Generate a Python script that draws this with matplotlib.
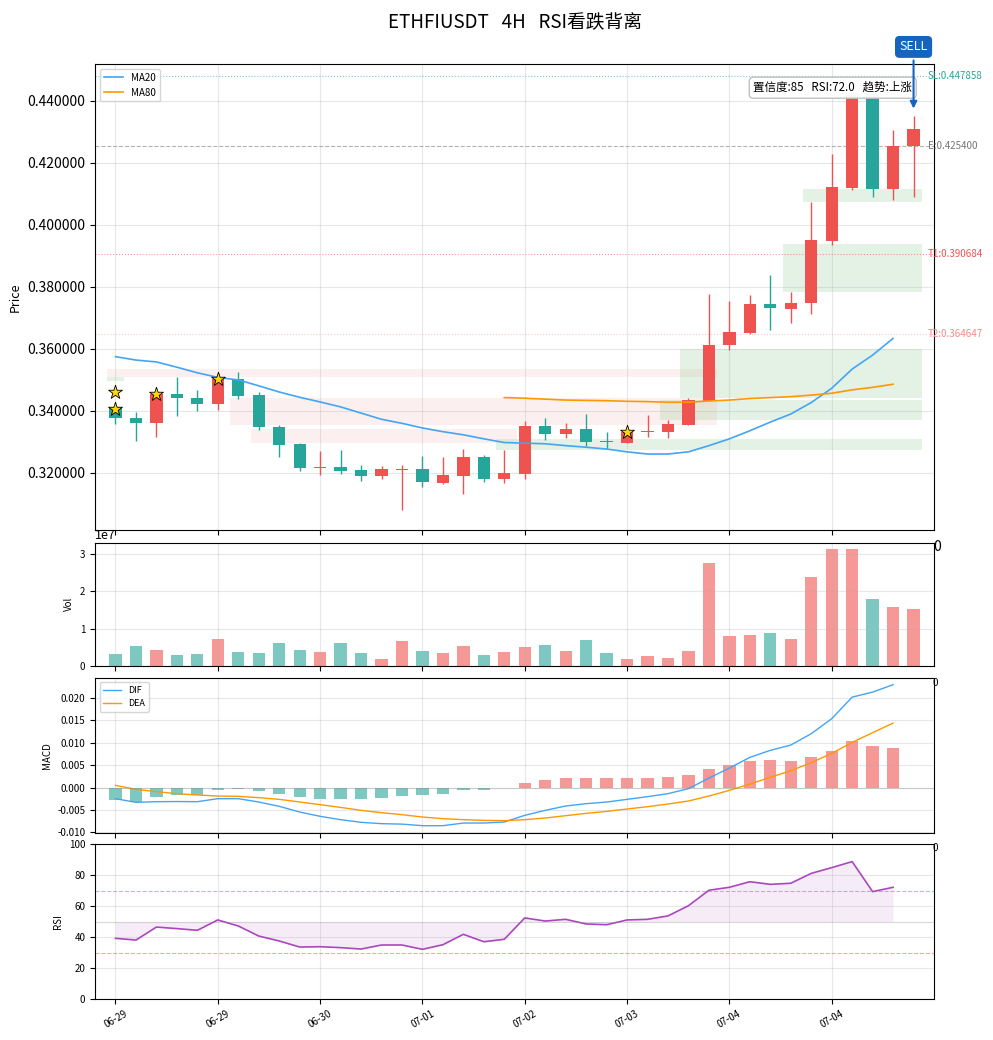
import numpy as np
import matplotlib
matplotlib.use("Agg")
import matplotlib.pyplot as plt

plt.rcParams['font.family'] = ['Noto Sans CJK SC', 'DejaVu Sans']
plt.rcParams['axes.unicode_minus'] = False

# ---- data ----
dates = ["06-29", "06-29", "06-30", "07-01", "07-02", "07-03", "07-04", "07-04"]
opens = [0.3414, 0.3376, 0.3360, 0.3455, 0.3441, 0.3422, 0.3502, 0.3451, 0.3348, 0.3293,
         0.3217, 0.3218, 0.3209, 0.3189, 0.3211, 0.3212, 0.3167, 0.3191, 0.3251, 0.3182,
         0.3198, 0.3352, 0.3327, 0.3341, 0.3302, 0.3298, 0.3331, 0.3333, 0.3356, 0.3433,
         0.3612, 0.3650, 0.3744, 0.3728, 0.3747, 0.3949, 0.4119, 0.4422, 0.4117, 0.4253]
highs = [0.3416, 0.3396, 0.3458, 0.3510, 0.3468, 0.3508, 0.3526, 0.3460, 0.3355, 0.3297,
         0.3271, 0.3274, 0.3226, 0.3223, 0.3226, 0.3255, 0.3252, 0.3277, 0.3259, 0.3275,
         0.3368, 0.3378, 0.3362, 0.3390, 0.3332, 0.3335, 0.3387, 0.3371, 0.3443, 0.3777,
         0.3755, 0.3774, 0.3838, 0.3784, 0.4075, 0.4229, 0.4432, 0.4436, 0.4306, 0.4352]
lows = [0.3358, 0.3303, 0.3317, 0.3385, 0.3401, 0.3403, 0.3440, 0.3339, 0.3252, 0.3206,
        0.3194, 0.3197, 0.3175, 0.3181, 0.3081, 0.3156, 0.3165, 0.3133, 0.3172, 0.3168,
        0.3181, 0.3306, 0.3313, 0.3288, 0.3276, 0.3298, 0.3317, 0.3314, 0.3356, 0.3433,
        0.3598, 0.3648, 0.3662, 0.3685, 0.3714, 0.3935, 0.4113, 0.4091, 0.4081, 0.4091]
closes = [0.3376, 0.3361, 0.3455, 0.3441, 0.3422, 0.3503, 0.3449, 0.3349, 0.3291, 0.3217,
          0.3219, 0.3207, 0.3189, 0.3212, 0.3213, 0.3170, 0.3193, 0.3251, 0.3182, 0.3200,
          0.3352, 0.3327, 0.3341, 0.3301, 0.3300, 0.3332, 0.3333, 0.3357, 0.3435, 0.3612,
          0.3654, 0.3744, 0.3731, 0.3747, 0.3952, 0.4122, 0.4422, 0.4117, 0.4255, 0.4309]
volume = [0.32, 0.535, 0.43, 0.29, 0.32, 0.72, 0.37, 0.35, 0.61, 0.43,
          0.37, 0.61, 0.35, 0.19, 0.67, 0.40, 0.35, 0.535, 0.29, 0.37,
          0.51, 0.56, 0.40, 0.70, 0.35, 0.19, 0.27, 0.21, 0.40, 2.75,
          0.80, 0.83, 0.88, 0.72, 2.38, 3.15, 3.15, 1.79, 1.58, 1.52]  # x1e7
ma20 = [0.3575, 0.3564, 0.3558, 0.3541, 0.3523, 0.3508, 0.3500, 0.3481, 0.3461, 0.3444,
        0.3429, 0.3413, 0.3393, 0.3373, 0.3360, 0.3345, 0.3333, 0.3323, 0.3310, 0.3298,
        0.3296, 0.3294, 0.3288, 0.3283, 0.3277, 0.3268, 0.3261, 0.3261, 0.3268, 0.3288,
        0.3310, 0.3336, 0.3364, 0.3390, 0.3427, 0.3473, 0.3535, 0.3580, 0.3634]
ma80_start = 19
ma80 = [0.3443, 0.3441, 0.3438, 0.3435, 0.3434, 0.3433, 0.3431, 0.3430, 0.3428, 0.3428,
        0.3432, 0.3435, 0.3440, 0.3443, 0.3446, 0.3451, 0.3457, 0.3468, 0.3476, 0.3486]
dif = [-0.00246, -0.00328, -0.00313, -0.00310, -0.00313, -0.00246, -0.00246, -0.00320, -0.00417, -0.00544,
       -0.00640, -0.00715, -0.00774, -0.00804, -0.00814, -0.00849, -0.00849, -0.00790, -0.00790, -0.00767,
       -0.00618, -0.00507, -0.00410, -0.00358, -0.00321, -0.00261, -0.00201, -0.00134, -0.00022, 0.00214,
       0.00438, 0.00676, 0.00833, 0.00951, 0.01205, 0.01540, 0.02022, 0.02134, 0.02299]
dea = [0.00051, -0.00038, -0.00089, -0.00134, -0.00164, -0.00187, -0.00194, -0.00223, -0.00261, -0.00320,
       -0.00380, -0.00440, -0.00507, -0.00559, -0.00603, -0.00656, -0.00693, -0.00715, -0.00730, -0.00737,
       -0.00715, -0.00678, -0.00626, -0.00574, -0.00529, -0.00477, -0.00425, -0.00365, -0.00298, -0.00187,
       -0.00060, 0.00080, 0.00230, 0.00379, 0.00558, 0.00766, 0.01011, 0.01228, 0.01442]
macd_hist = [-0.00276, -0.00313, -0.00217, -0.00164, -0.00156, -0.00060, -0.00037, -0.00083, -0.00142, -0.00210,
             -0.00254, -0.00254, -0.00254, -0.00231, -0.00187, -0.00164, -0.00142, -0.00060, -0.00060, -0.00015,
             0.00096, 0.00163, 0.00208, 0.00208, 0.00208, 0.00208, 0.00208, 0.00230, 0.00275, 0.00409,
             0.00498, 0.00587, 0.00610, 0.00587, 0.00676, 0.00810, 0.01033, 0.00922, 0.00877]
rsi = [39.2, 38.1, 46.5, 45.5, 44.4, 51.1, 47.2, 40.7, 37.5, 33.6,
       33.8, 33.2, 32.3, 34.9, 34.9, 32.1, 35.1, 41.8, 37.0, 38.6,
       52.4, 50.4, 51.5, 48.5, 48.0, 51.1, 51.5, 53.7, 60.3, 70.3,
       72.2, 75.8, 74.1, 74.8, 81.2, 84.9, 88.8, 69.4, 72.2]

# zones (start idx, end idx, low, high)
pink_zones = [(-0.4, 29.4, 0.3511, 0.3535), (5.6, 29.4, 0.3355, 0.3441), (6.6, 19.6, 0.3297, 0.3342)]
green_zones = [(-0.4, 0.4, 0.3495, 0.3511), (33.6, 39.4, 0.4075, 0.4116), (32.6, 39.4, 0.3785, 0.3939),
               (27.6, 39.4, 0.3443, 0.3599), (26.6, 39.4, 0.3371, 0.3435), (18.6, 39.4, 0.3274, 0.3310)]
star_idx = [0, 0, 2, 5, 25]
star_price = [0.3460, 0.3405, 0.3455, 0.3502, 0.3332]
levels = {"SL": 0.447858, "E": 0.425400, "T1": 0.390684, "T2": 0.364647}
sell_idx, sell_price = 39, 0.4366

UP = '#EF5350'
DOWN = '#26A69A'

n = len(closes)
x = np.arange(n)
colors = [UP if c >= o else DOWN for o, c in zip(opens, closes)]

fig = plt.figure(figsize=(9.93, 10.4), dpi=100)
ax = fig.add_axes([0.0957, 0.4904, 0.8449, 0.4481])
axv = fig.add_axes([0.0957, 0.3596, 0.8449, 0.1186], sharex=ax)
axm = fig.add_axes([0.0957, 0.1993, 0.8449, 0.1491], sharex=ax)
axr = fig.add_axes([0.0957, 0.0394, 0.8449, 0.1488], sharex=ax)

# ---- price panel ----
for (a, b, lo, hi) in pink_zones:
    ax.fill_between([a, b], lo, hi, color='#EF9A9A', alpha=0.15, lw=0)
for (a, b, lo, hi) in green_zones:
    ax.fill_between([a, b], lo, hi, color='#81C784', alpha=0.22, lw=0)

ax.vlines(x, lows, highs, colors=colors, lw=1, zorder=2)
body_bot = [min(o, c) for o, c in zip(opens, closes)]
body_h = [max(abs(c - o), 0.0003) for o, c in zip(opens, closes)]
ax.bar(x, body_h, bottom=body_bot, width=0.6, color=colors, zorder=3)

ax.plot(x[:len(ma20)], ma20, color='#42A5F5', lw=1.2, label='MA20', zorder=4)
ax.plot(np.arange(ma80_start, ma80_start + len(ma80)), ma80, color='#FF9800', lw=1.2, label='MA80', zorder=4)

ax.scatter(star_idx, star_price, marker='*', s=110, color='#FFD700', edgecolors='black', linewidths=0.6, zorder=6)

ax.axhline(levels["SL"], color=DOWN, ls=':', lw=0.8, alpha=0.6)
ax.axhline(levels["E"], color='gray', ls='--', lw=0.8, alpha=0.6)
ax.axhline(levels["T1"], color=UP, ls=':', lw=0.8, alpha=0.6)
ax.axhline(levels["T2"], color=UP, ls=':', lw=0.8, alpha=0.3)
lab_col = {"SL": DOWN, "E": '#757575', "T1": UP, "T2": '#F28B89'}
for k, v in levels.items():
    ax.text(39.7, v, f"{k}:{v:.6f}", color=lab_col[k], fontsize=7, va='center', ha='left', clip_on=False)

ax.text(0.974, 0.963, "置信度:85   RSI:72.0   趋势:上涨", transform=ax.transAxes, fontsize=8.3,
        ha='right', va='top', zorder=10,
        bbox=dict(boxstyle='round,pad=0.35', fc='white', ec='#BDBDBD', alpha=0.95))

ax.annotate("SELL", xy=(sell_idx, sell_price), xytext=(sell_idx, 0.4574),
            ha='center', va='center', fontsize=9, color='white', annotation_clip=False, zorder=11,
            bbox=dict(boxstyle='round,pad=0.3', fc='#1565C0', ec='#1565C0'),
            arrowprops=dict(arrowstyle='-|>', color='#1565C0', lw=1.5, mutation_scale=10))

ax.set_ylim(0.3016, 0.4519)
ax.set_xlim(-1, 40)
ax.yaxis.set_major_formatter(matplotlib.ticker.FormatStrFormatter('%.6f'))
ax.set_ylabel("Price", fontsize=9)
ax.grid(True, alpha=0.3)
ax.legend(loc='upper left', fontsize=7)
ax.tick_params(labelbottom=False)
ax.set_title("ETHFIUSDT   4H   RSI看跌背离", fontsize=13.5, pad=26)

# ---- volume ----
axv.bar(x, np.array(volume) * 1e7, width=0.6, color=colors, alpha=0.6)
axv.set_ylabel("Vol", fontsize=7)
axv.tick_params(labelsize=7, labelbottom=False)
axv.yaxis.get_offset_text().set_fontsize(9)
axv.grid(True, alpha=0.3)

# ---- MACD ----
xm = np.arange(len(macd_hist))
axm.bar(xm, macd_hist, width=0.6, color=[UP if v >= 0 else DOWN for v in macd_hist], alpha=0.6)
axm.plot(xm, dif, color='#42A5F5', lw=1, label='DIF')
axm.plot(xm, dea, color='#FF9800', lw=1, label='DEA')
axm.axhline(0, color='gray', lw=0.8, alpha=0.3)
axm.set_ylabel("MACD", fontsize=7)
axm.tick_params(labelsize=7, labelbottom=False)
axm.grid(True, alpha=0.3)
axm.legend(loc='upper left', fontsize=6.5)

# ---- RSI ----
xr = np.arange(len(rsi))
axr.plot(xr, rsi, color='#AB47BC', lw=1.2)
axr.fill_between(xr, rsi, 50, color='#AB47BC', alpha=0.1, lw=0)
axr.axhline(70, color=DOWN, ls='--', lw=0.8, alpha=0.5)
axr.axhline(30, color=UP, ls='--', lw=0.8, alpha=0.5)
axr.axhline(50, color='gray', lw=0.8, alpha=0.3)
axr.set_ylim(0, 100)
axr.set_ylabel("RSI", fontsize=7)
axr.tick_params(labelsize=7)
axr.grid(True, alpha=0.3)
axr.set_xticks(np.arange(0, n, 5))
axr.set_xticklabels(dates, rotation=30, fontsize=7)

# stray "0" labels at the right end of the panels
fig.text(0.9395, 0.4736, "0", fontsize=10, ha='left', va='center')
for yy in [0.3433, 0.1846]:
    fig.text(0.9395, yy, "0", fontsize=7, ha='left', va='center')

fig.savefig("out.png", dpi=100)
